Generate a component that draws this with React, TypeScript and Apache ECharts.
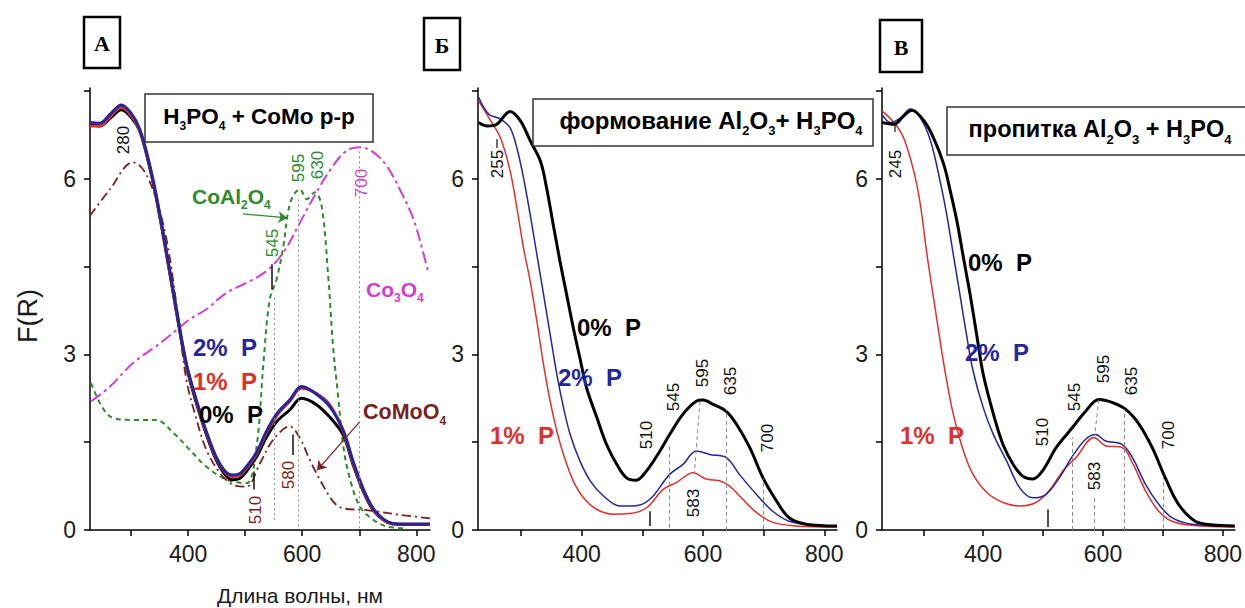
import React, { useEffect, useRef } from 'react';
import * as echarts from 'echarts';

// ---------- Panel A (H3PO4 + CoMo solution) ----------
const A_P0: [number, number][] = [[228,6.93],[245,6.9],[265,7.05],[283,7.18],[300,7.05],[315,6.82],[330,6.3],[344,5.68],[362,4.72],[380,3.7],[397,2.8],[415,2.15],[432,1.63],[450,1.18],[467,0.92],[479,0.86],[490,0.88],[502,1.0],[520,1.25],[537,1.58],[555,1.85],[578,2.05],[599,2.25],[625,2.14],[649,1.92],[672,1.62],[689,1.12],[707,0.66],[725,0.33],[748,0.14],[771,0.1],[824,0.1]];
const A_P1: [number, number][] = [[228,6.9],[245,6.9],[265,7.08],[283,7.22],[300,7.08],[315,6.83],[330,6.32],[344,5.7],[362,4.74],[380,3.72],[397,2.82],[415,2.18],[432,1.66],[450,1.21],[467,0.96],[479,0.91],[490,0.93],[502,1.05],[520,1.3],[537,1.65],[555,1.95],[578,2.2],[599,2.42],[625,2.33],[649,2.13],[672,1.68],[689,1.15],[707,0.68],[725,0.34],[748,0.14],[771,0.1],[824,0.1]];
const A_P2: [number, number][] = [[228,6.96],[245,6.95],[265,7.12],[283,7.26],[300,7.12],[315,6.85],[330,6.34],[344,5.72],[362,4.76],[380,3.74],[397,2.84],[415,2.2],[432,1.68],[450,1.23],[467,0.98],[479,0.94],[490,0.96],[502,1.08],[520,1.33],[537,1.68],[555,1.98],[578,2.22],[599,2.45],[625,2.32],[649,2.1],[672,1.7],[689,1.18],[707,0.7],[725,0.36],[748,0.15],[771,0.1],[824,0.1]];
const A_COMOO4: [number, number][] = [[228,5.37],[263,5.82],[303,6.28],[321,6.16],[342,5.71],[362,4.97],[380,3.82],[397,2.57],[415,1.88],[432,1.37],[456,0.97],[479,0.77],[502,0.74],[526,1.14],[549,1.54],[578,1.77],[596,1.57],[613,1.2],[631,0.86],[654,0.49],[672,0.37],[713,0.34],[771,0.26],[824,0.2]];
const A_COAL2O4: [number, number][] = [[230,2.51],[263,1.94],[303,1.88],[344,1.88],[374,1.66],[403,1.37],[432,1.08],[467,0.86],[502,0.8],[520,1.43],[532,2.85],[543,3.94],[555,4.28],[567,4.85],[575,5.42],[584,5.71],[596,5.82],[608,5.65],[622,5.77],[634,5.54],[646,4.28],[654,3.14],[663,2.28],[672,1.43],[684,0.86],[701,0.4],[725,0.17],[748,0.06],[783,0.03]];
const A_CO3O4: [number, number][] = [[230,2.2],[263,2.45],[303,2.85],[344,3.14],[374,3.37],[403,3.6],[432,3.77],[467,4.05],[502,4.22],[537,4.42],[567,4.74],[596,5.25],[625,5.77],[654,6.22],[678,6.48],[701,6.54],[725,6.45],[748,6.22],[771,5.82],[795,5.31],[812,4.74],[821,4.4]];

// ---------- Panel Б (forming Al2O3 + H3PO4) ----------
const B_P0: [number, number][] = [[230,6.96],[244,6.9],[260,6.93],[282,7.15],[299,6.99],[315,6.65],[332,6.3],[342,5.85],[353,5.22],[364,4.6],[375,4.03],[386,3.46],[397,2.94],[408,2.43],[425,1.92],[441,1.46],[458,1.12],[474,0.89],[490,0.85],[507,1.01],[529,1.35],[545,1.63],[567,1.98],[589,2.2],[600,2.22],[616,2.15],[638,2.03],[655,1.81],[677,1.41],[699,0.89],[721,0.5],[742,0.21],[770,0.1],[821,0.07]];
const B_P2: [number, number][] = [[230,7.39],[247,7.1],[266,7.02],[282,6.87],[293,6.53],[304,6.02],[315,5.39],[326,4.71],[337,4.03],[348,3.34],[359,2.66],[370,2.09],[381,1.63],[397,1.18],[414,0.84],[436,0.58],[463,0.41],[485,0.41],[512,0.52],[545,0.95],[567,1.12],[589,1.35],[611,1.29],[638,1.24],[660,0.95],[688,0.61],[715,0.32],[742,0.15],[770,0.1],[821,0.07]];
const B_P1: [number, number][] = [[230,7.33],[247,7.04],[266,6.7],[282,6.13],[293,5.51],[304,4.82],[315,4.25],[326,3.57],[337,2.83],[348,2.2],[359,1.69],[370,1.29],[386,0.84],[403,0.55],[425,0.35],[452,0.27],[479,0.28],[507,0.38],[534,0.69],[556,0.81],[584,0.98],[605,0.87],[627,0.84],[644,0.75],[666,0.52],[688,0.3],[715,0.13],[753,0.07],[821,0.05]];

// ---------- Panel В (impregnation Al2O3 + H3PO4) ----------
const C_P0: [number, number][] = [[231,6.96],[251,6.93],[267,7.07],[281,7.17],[301,6.99],[317,6.7],[334,6.25],[345,5.79],[356,5.28],[367,4.65],[378,4.03],[389,3.34],[400,2.66],[417,1.98],[433,1.46],[450,1.12],[466,0.92],[483,0.87],[499,1.01],[522,1.41],[549,1.75],[571,2.03],[593,2.23],[615,2.18],[638,2.06],[660,1.81],[682,1.41],[704,0.89],[726,0.44],[754,0.15],[781,0.09],[820,0.07]];
const C_P2: [number, number][] = [[231,7.1],[245,6.96],[262,7.04],[278,7.19],[295,7.04],[312,6.65],[328,5.96],[339,5.39],[350,4.71],[361,4.03],[372,3.34],[383,2.72],[400,2.09],[417,1.63],[439,1.18],[461,0.72],[483,0.55],[505,0.61],[527,0.89],[549,1.26],[571,1.55],[588,1.63],[604,1.52],[632,1.46],[649,1.24],[671,0.78],[693,0.44],[715,0.21],[748,0.1],[820,0.07]];
const C_P1: [number, number][] = [[231,7.16],[251,6.96],[267,6.7],[284,6.13],[295,5.56],[306,4.71],[317,3.97],[328,3.23],[339,2.55],[350,1.98],[367,1.35],[383,0.95],[406,0.64],[433,0.47],[461,0.41],[488,0.47],[510,0.67],[533,1.01],[555,1.24],[585,1.58],[604,1.44],[632,1.41],[649,1.15],[671,0.67],[693,0.32],[715,0.15],[748,0.08],[820,0.05]];

// ---------- Axis ticks ----------
const X_LABELS = [400, 600, 800];
const X_TICKS = [300, 400, 500, 600, 700, 800];
const Y_LABELS = [0, 3, 6];
const Y_TICKS = [0, 1.5, 3, 4.5, 6, 7.5];

// ---------- Reference lines [x1, y1, x2, y2] ----------
const A_DOTTED = [[551, 0.17, 551, 4.0], [593, 0.06, 593, 5.7], [700, 0.03, 700, 6.54]];
const A_SOLID = [[547, 4.11, 547, 4.54], [515, 0.69, 515, 1.0], [584, 1.28, 584, 1.63]];
const B_DASHED = [[545, 0.04, 545, 1.46], [595, 2.2, 586, 0.98], [638, 0.0, 638, 2.05], [700, 0.02, 700, 0.88]];
const B_SOLID = [[512, 0.07, 512, 0.32]];
const C_DASHED = [[549, 0.0, 549, 1.58], [593, 2.23, 586, 1.6], [585, 0.0, 585, 0.6], [636, 0.0, 636, 2.06], [701, 0.03, 701, 0.89]];
const C_SOLID = [[508, 0.05, 508, 0.35]];

const FONT = '"Liberation Sans", Arial, sans-serif';
const BLUE = '#25259e';
const RED = '#e0302c';
const DARKRED = '#7b1f1f';
const GREEN = '#2c8c2c';
const MAGENTA = '#d43cd4';

function segs(list: number[][], color: string, type: any, width: number) {
  return list.map((s) => [
    { coord: [s[0], s[1]], lineStyle: { color, type, width } },
    { coord: [s[2], s[3]] },
  ]);
}

function markLines(dashed: number[][], solid: number[][], dashType: any) {
  return {
    silent: true,
    symbol: ['none', 'none'],
    label: { show: false },
    animation: false,
    data: [...segs(dashed, '#8a8a8a', dashType, 1), ...segs(solid, '#111', 'solid', 1.5)],
  };
}

function line(data: any, idx: number, color: string, width: number, type: any = 'solid', extra: any = {}) {
  return {
    type: 'line',
    xAxisIndex: idx,
    yAxisIndex: idx,
    data,
    showSymbol: false,
    smooth: 0.35,
    lineStyle: { color, width, type },
    itemStyle: { color },
    silent: true,
    ...extra,
  };
}

function xAxis(idx: number, min: number, max: number) {
  return {
    type: 'value',
    gridIndex: idx,
    min,
    max,
    splitLine: { show: false },
    axisLine: { show: true, onZero: false, lineStyle: { color: '#000', width: 1.5 } },
    axisTick: { show: true, length: 6, lineStyle: { color: '#000', width: 1.5 }, customValues: X_TICKS },
    axisLabel: { fontSize: 23, fontFamily: FONT, color: '#1a1a1a', margin: 12, customValues: X_LABELS },
  };
}

function yAxis(idx: number) {
  return {
    type: 'value',
    gridIndex: idx,
    min: 0,
    max: 7.55,
    splitLine: { show: false },
    axisLine: { show: true, onZero: false, lineStyle: { color: '#000', width: 1.5 } },
    axisTick: { show: true, length: 6, lineStyle: { color: '#000', width: 1.5 }, customValues: Y_TICKS },
    axisLabel: { fontSize: 23, fontFamily: FONT, color: '#1a1a1a', margin: 14, customValues: Y_LABELS },
  };
}

function rotLabel(text: string, x: number, y: number, color = '#111', size = 17) {
  return {
    type: 'text',
    x,
    y,
    rotation: Math.PI / 2,
    z: 50,
    style: { text, fill: color, font: `${size}px ${FONT}`, align: 'center', verticalAlign: 'middle' },
  };
}

function pctLabel(text: string, x: number, y: number, color: string) {
  return {
    type: 'text',
    x,
    y,
    z: 50,
    style: { text, fill: color, font: `bold 24px ${FONT}`, align: 'left', verticalAlign: 'middle' },
  };
}

function richText(parts: [string, boolean][], x: number, y: number, color: string, size: number, align = 'center') {
  const text = parts.map(([t, sub]) => `{${sub ? 's' : 'b'}|${t}}`).join('');
  return {
    type: 'text',
    x,
    y,
    z: 60,
    style: {
      text,
      align,
      verticalAlign: 'middle',
      fill: color,
      rich: {
        b: { fontSize: size, fontWeight: 'bold', fontFamily: FONT, fill: color, color, lineHeight: size + 4 },
        s: { fontSize: Math.round(size * 0.55), fontWeight: 'bold', fontFamily: FONT, fill: color, color, padding: [Math.round(size * 0.85), 0, 0, 0] },
      },
    },
  };
}

function letterBox(letter: string, x: number, y: number, w: number, h: number) {
  return [
    { type: 'rect', shape: { x, y, width: w, height: h }, style: { fill: '#fff', stroke: '#000', lineWidth: 2.5 }, z: 40 },
    {
      type: 'text', x: x + w / 2, y: y + h / 2 + 1, z: 41,
      style: { text: letter, fill: '#000', font: 'bold 22px "Liberation Serif", "DejaVu Serif", serif', align: 'center', verticalAlign: 'middle' },
    },
  ];
}

function titleBox(x: number, y: number, w: number, h: number) {
  return { type: 'rect', shape: { x, y, width: w, height: h }, style: { fill: '#fff', stroke: '#333', lineWidth: 1.5 }, z: 55 };
}

function smallDash(x: number, y1: number, y2: number) {
  return { type: 'line', shape: { x1: x, y1, x2: x, y2 }, style: { stroke: '#111', lineWidth: 1.2 }, z: 50 };
}

export default function App() {
  const ref = useRef<HTMLDivElement>(null);
  useEffect(() => {
    const chart = echarts.init(ref.current!, null, { renderer: 'svg' });
    const option: any = {
      animation: false,
      backgroundColor: '#fff',
      grid: [
        { left: 90, top: 88, width: 340, height: 442 },
        { left: 478, top: 88, width: 359, height: 442 },
        { left: 882, top: 88, width: 355, height: 442 },
      ],
      xAxis: [xAxis(0, 228, 824), xAxis(1, 229, 821), xAxis(2, 231, 820)],
      yAxis: [yAxis(0), yAxis(1), yAxis(2)],
      series: [
        // Panel A
        line(A_CO3O4, 0, MAGENTA, 2, [12, 4, 3, 4], { markLine: markLines(A_DOTTED, A_SOLID, [2, 3]) }),
        line(A_COAL2O4, 0, GREEN, 2, [5, 4]),
        line(A_COMOO4, 0, DARKRED, 1.8, [9, 4, 2, 4], {
          markLine: {
            silent: true,
            symbol: ['none', 'arrow'],
            symbolSize: 9,
            label: { show: false },
            data: [
              [{ coord: [496, 5.4], lineStyle: { color: GREEN, width: 1.2, type: 'solid' } }, { coord: [574, 5.33] }],
              [{ coord: [700, 1.84], lineStyle: { color: DARKRED, width: 1.2, type: 'solid' } }, { coord: [626, 1.02] }],
            ],
          },
        }),
        line(A_P0, 0, '#000', 3),
        line(A_P1, 0, RED, 3),
        line(A_P2, 0, BLUE, 3),
        // Panel Б
        line(B_P1, 1, RED, 1.5, 'solid', { markLine: markLines(B_DASHED, B_SOLID, [4, 3]) }),
        line(B_P2, 1, BLUE, 1.5),
        line(B_P0, 1, '#000', 3),
        // Panel В
        line(C_P1, 2, RED, 1.5, 'solid', { markLine: markLines(C_DASHED, C_SOLID, [4, 3]) }),
        line(C_P2, 2, BLUE, 1.5),
        line(C_P0, 2, '#000', 3),
      ],
      graphic: [
        ...letterBox('А', 84, 17, 36, 51),
        ...letterBox('Б', 424, 18, 36, 52),
        ...letterBox('В', 880, 20, 42, 52),
        titleBox(145, 94, 228, 48),
        richText([['H', false], ['3', true], ['PO', false], ['4', true], [' + CoMo р-р', false]], 259, 116, '#000', 22.5),
        titleBox(533, 99, 340, 47),
        richText([['формование Al', false], ['2', true], ['O', false], ['3', true], ['+ H', false], ['3', true], ['PO', false], ['4', true]], 711, 120, '#000', 24),
        titleBox(947, 107, 310, 48),
        richText([['пропитка Al', false], ['2', true], ['O', false], ['3', true], [' + H', false], ['3', true], ['PO', false], ['4', true]], 1100, 129, '#000', 23.5),
        // axis titles
        { type: 'text', x: 28, y: 316, rotation: Math.PI / 2, style: { text: 'F(R)', fill: '#1a1a1a', font: `27px ${FONT}`, align: 'center', verticalAlign: 'middle' } },
        { type: 'text', x: 300, y: 595, style: { text: 'Длина волны, нм', fill: '#1a1a1a', font: `21px ${FONT}`, align: 'center', verticalAlign: 'middle' } },
        // Panel A annotations
        rotLabel('280', 123, 140),
        richText([['CoAl', false], ['2', true], ['O', false], ['4', true]], 192, 196, GREEN, 21, 'left'),
        rotLabel('545', 272, 243, GREEN),
        rotLabel('595', 298, 168, GREEN),
        rotLabel('630', 317, 165, GREEN),
        rotLabel('700', 361, 183, MAGENTA),
        richText([['Co', false], ['3', true], ['O', false], ['4', true]], 366, 289, MAGENTA, 21, 'left'),
        richText([['CoMoO', false], ['4', true]], 363, 412, DARKRED, 21.5, 'left'),
        rotLabel('510', 255, 510, DARKRED),
        rotLabel('580', 288, 475, DARKRED),
        pctLabel('2%  P', 193, 347, BLUE),
        pctLabel('1%  P', 193, 381, RED),
        pctLabel('0%  P', 199, 414, '#000'),
        // Panel Б annotations
        rotLabel('255', 497, 164),
        smallDash(497, 139, 148),
        rotLabel('510', 646, 435),
        rotLabel('545', 673, 397),
        rotLabel('595', 702, 373),
        rotLabel('635', 730, 381),
        rotLabel('700', 767, 438),
        rotLabel('583', 693, 503),
        pctLabel('0%  P', 577, 327, '#000'),
        pctLabel('2%  P', 558, 377, BLUE),
        pctLabel('1%  P', 490, 435, RED),
        // Panel В annotations
        rotLabel('245', 895, 164),
        smallDash(895, 123, 132),
        rotLabel('510', 1042, 432),
        rotLabel('545', 1074, 397),
        rotLabel('595', 1103, 369),
        rotLabel('635', 1131, 381),
        rotLabel('700', 1168, 435),
        rotLabel('583', 1094, 476),
        pctLabel('0%  P', 968, 262, '#000'),
        pctLabel('2%  P', 965, 352, BLUE),
        pctLabel('1%  P', 900, 435, RED),
      ],
    };
    chart.setOption(option);
    return () => chart.dispose();
  }, []);
  return (
    <div
      ref={ref}
      style={{ position: 'absolute', left: 0, top: 0, width: 1245, height: 608, background: '#fff' }}
    />
  );
}
